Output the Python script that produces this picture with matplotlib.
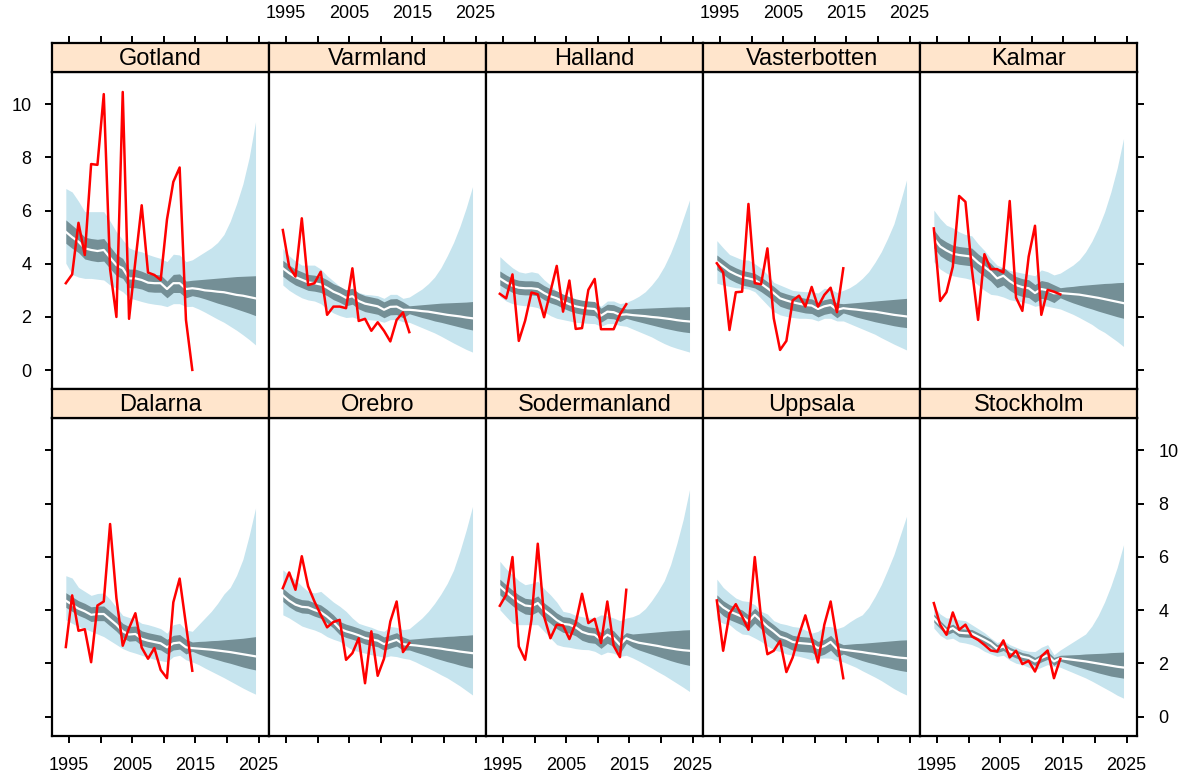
import numpy as np
import matplotlib.pyplot as plt

plt.rcParams['font.family'] = ['Liberation Sans', 'DejaVu Sans']

years = np.arange(1994, 2025)
n_obs = 21
tick_years = [1995, 2000, 2005, 2010, 2015, 2020, 2025]
tick_labels = ['1995', '', '2005', '', '2015', '', '2025']
y_ticks = [0, 2, 4, 6, 8, 10]

counties_top = ['Gotland', 'Varmland', 'Halland', 'Vasterbotten', 'Kalmar']
counties_bottom = ['Dalarna', 'Orebro', 'Sodermanland', 'Uppsala', 'Stockholm']

# ---- Gotland
obs_gotland = [3.27, 3.6, 5.54, 4.33, 7.75, 7.72, 10.38, 3.8, 2.0, 10.46, 1.93,
               4.1, 6.2, 3.67, 3.58, 3.39, 5.67, 7.08, 7.62, 1.89, 0.01]
med_gotland = [5.2, 5.0, 4.83, 4.58, 4.52, 4.48, 4.52, 4.23, 3.95, 3.83, 3.45, 3.45, 3.39, 3.29, 3.27, 3.27,
               3.05, 3.27, 3.27, 3.05, 3.08, 3.05, 3.0, 2.98, 2.95, 2.93, 2.88, 2.83, 2.8, 2.75, 2.7]
in_hi_gotland = [5.65, 5.45, 5.25, 5.0, 4.95, 4.92, 4.95, 4.65, 4.35, 4.2, 3.8, 3.8, 3.72, 3.62, 3.6, 3.58,
                 3.35, 3.6, 3.62, 3.35, 3.38, 3.4, 3.42, 3.44, 3.46, 3.48, 3.5, 3.52, 3.53, 3.54, 3.55]
in_lo_gotland = [4.77, 4.58, 4.42, 4.18, 4.12, 4.08, 4.1, 3.82, 3.55, 3.45, 3.1, 3.1, 3.05, 2.95, 2.93, 2.93,
                 2.72, 2.92, 2.92, 2.72, 2.8, 2.75, 2.68, 2.6, 2.52, 2.45, 2.38, 2.3, 2.22, 2.14, 2.05]
out_hi_gotland = [6.83, 6.7, 6.35, 5.96, 5.96, 5.96, 5.96, 5.6, 5.2, 4.9, 4.6, 4.5, 4.45, 4.35, 4.27, 4.2,
                  4.08, 4.36, 4.33, 4.08, 4.15, 4.3, 4.45, 4.6, 4.8, 5.1, 5.6, 6.25, 7.0, 8.0, 9.34]
out_lo_gotland = [4.02, 3.6, 3.5, 3.45, 3.45, 3.42, 3.39, 3.2, 3.08, 2.95, 2.72, 2.65, 2.58, 2.52, 2.48, 2.45,
                  2.39, 2.5, 2.5, 2.39, 2.4, 2.3, 2.18, 2.05, 1.92, 1.8, 1.65, 1.5, 1.33, 1.15, 0.95]

# ---- Varmland
obs_varmland = [5.27, 3.89, 3.52, 5.71, 3.2, 3.27, 3.7, 2.08, 2.39, 2.39, 2.33,
                3.83, 1.85, 1.93, 1.48, 1.8, 1.48, 1.08, 1.89, 2.17, 1.43]
med_varmland = [3.83, 3.65, 3.5, 3.4, 3.3, 3.27, 3.22, 3.1, 2.95, 2.85, 2.72, 2.78, 2.6, 2.5, 2.45, 2.4,
                2.27, 2.38, 2.39, 2.27, 2.27, 2.25, 2.22, 2.2, 2.16, 2.12, 2.08, 2.05, 2.02, 1.98, 1.95]
in_hi_varmland = [4.13, 3.95, 3.8, 3.7, 3.6, 3.57, 3.52, 3.4, 3.25, 3.15, 3.02, 3.08, 2.9, 2.8, 2.75, 2.7,
                  2.57, 2.68, 2.69, 2.57, 2.42, 2.44, 2.46, 2.48, 2.5, 2.52, 2.53, 2.54, 2.55, 2.56, 2.58]
in_lo_varmland = [3.53, 3.35, 3.2, 3.1, 3.0, 2.97, 2.92, 2.8, 2.65, 2.55, 2.42, 2.48, 2.3, 2.2, 2.15, 2.1,
                  1.97, 2.08, 2.09, 1.97, 2.12, 2.05, 1.98, 1.92, 1.85, 1.8, 1.74, 1.68, 1.62, 1.56, 1.51]
out_hi_varmland = [4.58, 4.3, 4.1, 3.95, 3.95, 3.95, 3.8, 3.55, 3.35, 3.15, 3.02, 3.05, 2.92, 2.85, 2.83, 2.8,
                   2.7, 2.85, 2.85, 2.7, 2.75, 2.9, 3.05, 3.25, 3.5, 3.85, 4.3, 4.8, 5.4, 6.1, 6.9]
out_lo_varmland = [3.2, 3.0, 2.85, 2.72, 2.64, 2.6, 2.5, 2.3, 2.15, 2.05, 1.98, 2.0, 1.92, 1.9, 1.89, 1.87,
                   1.8, 1.9, 1.9, 1.82, 1.8, 1.7, 1.6, 1.5, 1.4, 1.28, 1.15, 1.02, 0.9, 0.78, 0.68]

# ---- Halland
obs_halland = [2.87, 2.7, 3.6, 1.1, 1.86, 2.92, 2.85, 1.99, 2.95, 3.92, 2.2,
               3.37, 1.55, 1.58, 3.02, 3.43, 1.54, 1.54, 1.54, 2.1, 2.48]
med_halland = [3.45, 3.3, 3.17, 3.1, 3.08, 3.08, 3.05, 2.9, 2.78, 2.7, 2.58, 2.48, 2.4, 2.35, 2.32, 2.3,
               2.05, 2.2, 2.18, 2.08, 2.1, 2.07, 2.05, 2.03, 2.0, 1.98, 1.95, 1.92, 1.88, 1.85, 1.83]
in_hi_halland = [3.73, 3.58, 3.45, 3.38, 3.36, 3.36, 3.33, 3.18, 3.06, 2.98, 2.86, 2.76, 2.68, 2.63, 2.6, 2.58,
                 2.33, 2.48, 2.46, 2.36, 2.3, 2.31, 2.32, 2.33, 2.34, 2.35, 2.36, 2.37, 2.38, 2.38, 2.39]
in_lo_halland = [3.2, 3.05, 2.92, 2.85, 2.83, 2.83, 2.8, 2.65, 2.53, 2.45, 2.33, 2.23, 2.15, 2.1, 2.07, 2.05,
                 1.8, 1.95, 1.93, 1.83, 1.95, 1.88, 1.82, 1.76, 1.7, 1.64, 1.58, 1.53, 1.48, 1.44, 1.41]
out_hi_halland = [4.27, 4.05, 3.85, 3.7, 3.65, 3.7, 3.65, 3.4, 3.2, 2.95, 2.83, 2.75, 2.65, 2.6, 2.58, 2.55,
                  2.4, 2.6, 2.6, 2.5, 2.55, 2.65, 2.78, 2.95, 3.2, 3.5, 3.9, 4.4, 5.0, 5.7, 6.4]
out_lo_halland = [2.77, 2.6, 2.5, 2.45, 2.42, 2.4, 2.35, 2.2, 2.05, 1.95, 1.9, 1.85, 1.8, 1.78, 1.76, 1.75,
                  1.65, 1.75, 1.75, 1.68, 1.65, 1.55, 1.45, 1.35, 1.25, 1.12, 1.0, 0.9, 0.82, 0.75, 0.68]

# ---- Vasterbotten
obs_vasterbotten = [4.02, 3.68, 1.51, 2.93, 2.95, 6.25, 3.27, 3.23, 4.58, 1.95, 0.76,
                    1.1, 2.62, 2.8, 2.39, 3.13, 2.39, 2.83, 3.1, 2.18, 3.83]
med_vasterbotten = [4.08, 3.9, 3.72, 3.6, 3.5, 3.45, 3.39, 3.25, 3.08, 2.9, 2.7, 2.62, 2.55, 2.5, 2.45, 2.43,
                    2.3, 2.4, 2.45, 2.27, 2.33, 2.3, 2.28, 2.25, 2.22, 2.2, 2.16, 2.12, 2.08, 2.05, 2.02]
in_hi_vasterbotten = [4.33, 4.15, 3.97, 3.85, 3.75, 3.7, 3.64, 3.5, 3.33, 3.15, 2.95, 2.87, 2.8, 2.75, 2.7, 2.68,
                      2.55, 2.65, 2.7, 2.52, 2.5, 2.52, 2.54, 2.56, 2.58, 2.6, 2.62, 2.64, 2.66, 2.68, 2.7]
in_lo_vasterbotten = [3.78, 3.6, 3.42, 3.3, 3.2, 3.15, 3.09, 2.95, 2.78, 2.6, 2.4, 2.32, 2.25, 2.2, 2.15, 2.13,
                      2.0, 2.1, 2.15, 1.97, 2.15, 2.08, 2.0, 1.94, 1.88, 1.82, 1.77, 1.72, 1.67, 1.63, 1.6]
out_hi_vasterbotten = [4.87, 4.6, 4.35, 4.25, 4.15, 4.14, 4.0, 3.83, 3.6, 3.3, 3.2, 3.1, 3.0, 2.97, 2.95, 2.95,
                       2.9, 3.08, 3.05, 2.92, 3.0, 3.1, 3.25, 3.45, 3.7, 4.05, 4.45, 4.95, 5.5, 6.3, 7.15]
out_lo_vasterbotten = [3.27, 3.2, 3.15, 3.1, 3.08, 3.05, 2.95, 2.7, 2.45, 2.2, 2.08, 2.02, 1.98, 1.95, 1.95, 1.93,
                       1.85, 1.95, 1.95, 1.85, 1.85, 1.75, 1.65, 1.55, 1.45, 1.35, 1.22, 1.1, 0.98, 0.87, 0.76]

# ---- Kalmar
obs_kalmar = [5.33, 2.6, 2.93, 3.89, 6.55, 6.33, 3.83, 1.89, 4.36, 3.8, 3.8,
              3.67, 6.36, 2.73, 2.23, 4.27, 5.43, 2.08, 3.02, 2.95, 2.85]
med_kalmar = [4.96, 4.65, 4.5, 4.38, 4.33, 4.3, 4.27, 4.05, 3.88, 3.7, 3.45, 3.55, 3.35, 3.2, 3.12, 3.08,
              2.9, 3.05, 3.0, 2.89, 2.9, 2.88, 2.86, 2.84, 2.8, 2.76, 2.72, 2.67, 2.62, 2.57, 2.52]
in_hi_kalmar = [5.28, 4.97, 4.82, 4.7, 4.65, 4.62, 4.59, 4.37, 4.2, 4.02, 3.77, 3.87, 3.67, 3.52, 3.44, 3.4,
                3.22, 3.37, 3.32, 3.21, 3.1, 3.13, 3.15, 3.18, 3.2, 3.22, 3.24, 3.26, 3.27, 3.29, 3.3]
in_lo_kalmar = [4.6, 4.3, 4.15, 4.03, 3.98, 3.95, 3.92, 3.7, 3.53, 3.35, 3.1, 3.2, 3.0, 2.85, 2.77, 2.73,
                2.55, 2.7, 2.65, 2.54, 2.72, 2.62, 2.53, 2.45, 2.37, 2.3, 2.22, 2.15, 2.08, 2.01, 1.95]
out_hi_kalmar = [6.02, 5.7, 5.45, 5.35, 5.2, 5.1, 5.05, 4.75, 4.5, 4.2, 3.95, 3.85, 3.75, 3.7, 3.65, 3.6,
                 3.55, 3.77, 3.7, 3.58, 3.65, 3.8, 3.95, 4.15, 4.45, 4.85, 5.35, 5.95, 6.7, 7.6, 8.71]
out_lo_kalmar = [4.08, 3.8, 3.65, 3.55, 3.5, 3.46, 3.4, 3.2, 3.0, 2.85, 2.82, 2.75, 2.65, 2.6, 2.56, 2.5,
                 2.4, 2.45, 2.4, 2.35, 2.3, 2.2, 2.1, 1.98, 1.85, 1.72, 1.55, 1.42, 1.25, 1.08, 0.89]

# ---- Dalarna
obs_dalarna = [2.61, 4.55, 3.22, 3.28, 2.04, 4.17, 4.32, 7.23, 4.45, 2.66, 3.32,
               3.88, 2.59, 2.17, 2.57, 1.75, 1.44, 4.29, 5.18, 3.45, 1.72]
med_dalarna = [4.35, 4.2, 4.05, 3.95, 3.82, 3.85, 3.85, 3.65, 3.45, 3.2, 3.08, 3.1, 2.92, 2.85, 2.8, 2.75,
               2.6, 2.75, 2.78, 2.6, 2.57, 2.55, 2.53, 2.51, 2.48, 2.45, 2.42, 2.38, 2.34, 2.3, 2.26]
in_hi_dalarna = [4.65, 4.5, 4.35, 4.25, 4.12, 4.15, 4.15, 3.95, 3.75, 3.5, 3.38, 3.4, 3.22, 3.15, 3.1, 3.05,
                 2.9, 3.05, 3.08, 2.9, 2.8, 2.82, 2.83, 2.85, 2.86, 2.88, 2.9, 2.92, 2.94, 2.97, 3.0]
in_lo_dalarna = [4.1, 3.95, 3.8, 3.7, 3.57, 3.6, 3.6, 3.4, 3.2, 2.95, 2.83, 2.85, 2.67, 2.6, 2.55, 2.5,
                 2.35, 2.5, 2.53, 2.35, 2.45, 2.35, 2.27, 2.2, 2.13, 2.06, 2.0, 1.93, 1.86, 1.8, 1.75]
out_hi_dalarna = [5.29, 5.2, 4.85, 4.7, 4.55, 4.62, 4.64, 4.4, 4.1, 3.8, 3.72, 3.65, 3.5, 3.45, 3.38, 3.3,
                  3.13, 3.45, 3.5, 3.25, 3.2, 3.45, 3.7, 3.95, 4.25, 4.6, 4.85, 5.3, 5.9, 6.8, 7.83]
out_lo_dalarna = [3.63, 3.5, 3.38, 3.3, 3.2, 3.1, 3.0, 2.85, 2.7, 2.55, 2.45, 2.38, 2.3, 2.22, 2.15, 2.1,
                  2.05, 2.25, 2.3, 2.13, 2.05, 1.95, 1.82, 1.7, 1.58, 1.46, 1.33, 1.2, 1.07, 0.95, 0.84]

# ---- Orebro
obs_orebro = [4.82, 5.41, 4.76, 6.02, 4.89, 4.32, 3.82, 3.35, 3.55, 3.63, 2.13,
              2.38, 2.94, 1.25, 3.2, 1.53, 2.17, 3.57, 4.32, 2.42, 2.76]
med_orebro = [4.55, 4.35, 4.2, 4.12, 4.1, 4.0, 3.92, 3.75, 3.55, 3.3, 3.2, 3.13, 3.05, 2.95, 2.9, 2.85,
              2.72, 2.8, 2.88, 2.72, 2.69, 2.67, 2.64, 2.61, 2.58, 2.55, 2.51, 2.48, 2.44, 2.41, 2.38]
in_hi_orebro = [4.82, 4.62, 4.47, 4.39, 4.37, 4.27, 4.19, 4.02, 3.82, 3.57, 3.47, 3.4, 3.32, 3.22, 3.17, 3.12,
                2.99, 3.07, 3.15, 2.99, 2.9, 2.92, 2.94, 2.96, 2.98, 2.99, 3.01, 3.02, 3.04, 3.05, 3.07]
in_lo_orebro = [4.32, 4.12, 3.97, 3.89, 3.87, 3.77, 3.69, 3.52, 3.32, 3.07, 2.97, 2.9, 2.82, 2.72, 2.67, 2.62,
                2.49, 2.57, 2.65, 2.49, 2.5, 2.42, 2.35, 2.28, 2.2, 2.13, 2.06, 2.0, 1.93, 1.87, 1.82]
out_hi_orebro = [5.51, 5.3, 5.14, 4.9, 4.7, 4.64, 4.7, 4.5, 4.3, 4.14, 3.95, 3.7, 3.5, 3.42, 3.35, 3.25,
                 3.2, 3.38, 3.35, 3.26, 3.3, 3.5, 3.7, 3.95, 4.25, 4.6, 5.0, 5.5, 6.2, 7.0, 7.89]
out_lo_orebro = [3.82, 3.7, 3.55, 3.4, 3.32, 3.25, 3.15, 3.0, 2.9, 2.82, 2.65, 2.5, 2.44, 2.38, 2.32, 2.28,
                 2.22, 2.28, 2.25, 2.19, 2.15, 2.05, 1.93, 1.82, 1.7, 1.57, 1.45, 1.3, 1.15, 0.98, 0.81]

# ---- Sodermanland
obs_sodermanland = [4.16, 4.57, 5.99, 2.63, 2.13, 3.63, 6.49, 3.76, 2.94, 3.45, 3.42,
                    2.91, 3.51, 4.61, 3.51, 3.67, 2.76, 4.32, 2.66, 2.23, 4.76]
med_sodermanland = [4.89, 4.68, 4.48, 4.3, 4.17, 4.14, 4.26, 4.0, 3.82, 3.62, 3.48, 3.45, 3.35, 3.18, 3.1, 3.07,
                    2.88, 3.07, 2.95, 2.69, 2.94, 2.84, 2.77, 2.73, 2.69, 2.65, 2.6, 2.56, 2.52, 2.49, 2.47]
in_hi_sodermanland = [5.16, 4.95, 4.75, 4.57, 4.44, 4.41, 4.53, 4.27, 4.09, 3.89, 3.75, 3.72, 3.62, 3.45, 3.37, 3.34,
                      3.15, 3.34, 3.22, 2.96, 3.15, 3.1, 3.12, 3.14, 3.16, 3.18, 3.2, 3.22, 3.23, 3.25, 3.26]
in_lo_sodermanland = [4.57, 4.36, 4.16, 3.98, 3.85, 3.82, 3.94, 3.68, 3.5, 3.3, 3.16, 3.13, 3.03, 2.86, 2.78, 2.75,
                      2.56, 2.75, 2.63, 2.37, 2.75, 2.6, 2.5, 2.42, 2.34, 2.26, 2.18, 2.1, 2.03, 1.97, 1.92]
out_hi_sodermanland = [5.83, 5.55, 5.33, 5.1, 4.95, 5.0, 5.08, 4.8, 4.57, 4.3, 3.95, 3.9, 3.8, 3.75, 3.7, 3.7,
                       3.82, 3.78, 3.7, 3.6, 3.7, 3.75, 3.85, 4.05, 4.35, 4.7, 5.1, 5.7, 6.5, 7.4, 8.52]
out_lo_sodermanland = [4.01, 3.75, 3.5, 3.45, 3.45, 3.45, 3.45, 3.2, 2.95, 2.7, 2.63, 2.6, 2.55, 2.52, 2.51, 2.45,
                       2.32, 2.42, 2.38, 2.26, 2.3, 2.2, 2.08, 1.95, 1.82, 1.68, 1.55, 1.4, 1.25, 1.1, 0.94]

# ---- Uppsala
obs_uppsala = [4.36, 2.47, 3.86, 4.22, 3.76, 3.26, 5.99, 3.7, 2.34, 2.47, 2.84,
               1.67, 2.22, 3.07, 3.8, 2.94, 2.03, 3.45, 4.32, 2.88, 1.44]
med_uppsala = [4.32, 4.1, 3.95, 3.85, 3.75, 3.57, 3.82, 3.6, 3.38, 3.2, 3.0, 2.92, 2.8, 2.76, 2.74, 2.72,
               2.57, 2.65, 2.8, 2.55, 2.51, 2.48, 2.45, 2.42, 2.38, 2.35, 2.31, 2.28, 2.24, 2.21, 2.19]
in_hi_uppsala = [4.57, 4.35, 4.2, 4.1, 4.0, 3.82, 4.07, 3.85, 3.63, 3.45, 3.25, 3.17, 3.05, 3.01, 2.99, 2.97,
                 2.82, 2.9, 3.05, 2.8, 2.7, 2.72, 2.74, 2.75, 2.77, 2.79, 2.81, 2.83, 2.85, 2.87, 2.88]
in_lo_uppsala = [4.01, 3.79, 3.64, 3.54, 3.44, 3.26, 3.51, 3.29, 3.07, 2.89, 2.69, 2.61, 2.49, 2.45, 2.43, 2.41,
                 2.26, 2.34, 2.49, 2.24, 2.35, 2.26, 2.18, 2.1, 2.03, 1.97, 1.9, 1.84, 1.78, 1.73, 1.69]
out_hi_uppsala = [5.16, 4.85, 4.64, 4.45, 4.35, 4.32, 4.2, 3.95, 3.85, 3.6, 3.5, 3.45, 3.38, 3.35, 3.25, 3.13,
                  3.2, 3.38, 3.38, 3.3, 3.38, 3.55, 3.7, 3.82, 4.1, 4.5, 4.95, 5.5, 6.08, 6.8, 7.52]
out_lo_uppsala = [3.63, 3.5, 3.45, 3.25, 3.1, 3.07, 2.95, 2.82, 2.65, 2.5, 2.44, 2.35, 2.3, 2.26, 2.2, 2.13,
                  2.18, 2.2, 2.19, 2.1, 2.05, 1.95, 1.85, 1.72, 1.6, 1.48, 1.35, 1.2, 1.05, 0.92, 0.81]

# ---- Stockholm
obs_stockholm = [4.26, 3.45, 3.07, 3.91, 3.26, 3.45, 3.01, 2.88, 2.69, 2.48, 2.44,
                 2.86, 2.22, 2.47, 1.97, 2.09, 1.69, 2.26, 2.48, 1.44, 2.17]
med_stockholm = [3.7, 3.45, 3.22, 3.32, 3.15, 3.13, 3.12, 3.0, 2.88, 2.75, 2.55, 2.63, 2.45, 2.35, 2.25, 2.2,
                 2.07, 2.2, 2.3, 2.07, 2.19, 2.16, 2.13, 2.1, 2.07, 2.03, 1.99, 1.95, 1.91, 1.87, 1.84]
in_hi_stockholm = [3.85, 3.6, 3.37, 3.47, 3.3, 3.28, 3.27, 3.15, 3.03, 2.9, 2.7, 2.78, 2.6, 2.5, 2.4, 2.35,
                   2.22, 2.35, 2.45, 2.22, 2.3, 2.31, 2.32, 2.33, 2.35, 2.36, 2.37, 2.38, 2.4, 2.41, 2.42]
in_lo_stockholm = [3.55, 3.3, 3.07, 3.17, 3.0, 2.98, 2.97, 2.85, 2.73, 2.6, 2.4, 2.48, 2.3, 2.2, 2.1, 2.05,
                   1.92, 2.05, 2.15, 1.92, 2.08, 2.0, 1.92, 1.85, 1.78, 1.71, 1.64, 1.58, 1.52, 1.48, 1.44]
out_hi_stockholm = [4.14, 3.85, 3.7, 3.7, 3.63, 3.6, 3.45, 3.3, 3.15, 2.95, 2.78, 2.85, 2.7, 2.6, 2.5, 2.45,
                    2.44, 2.6, 2.7, 2.32, 2.5, 2.65, 2.8, 2.95, 3.1, 3.4, 3.8, 4.3, 4.9, 5.6, 6.45]
out_lo_stockholm = [3.32, 3.05, 2.9, 2.94, 2.8, 2.76, 2.7, 2.6, 2.45, 2.35, 2.26, 2.3, 2.12, 2.0, 1.95, 1.85,
                    1.75, 1.85, 1.95, 1.88, 1.85, 1.75, 1.65, 1.55, 1.45, 1.33, 1.2, 1.07, 0.94, 0.8, 0.69]


data = {
    'Gotland': (obs_gotland, med_gotland, in_lo_gotland, in_hi_gotland, out_lo_gotland, out_hi_gotland),
    'Varmland': (obs_varmland, med_varmland, in_lo_varmland, in_hi_varmland, out_lo_varmland, out_hi_varmland),
    'Halland': (obs_halland, med_halland, in_lo_halland, in_hi_halland, out_lo_halland, out_hi_halland),
    'Vasterbotten': (obs_vasterbotten, med_vasterbotten, in_lo_vasterbotten, in_hi_vasterbotten,
                     out_lo_vasterbotten, out_hi_vasterbotten),
    'Kalmar': (obs_kalmar, med_kalmar, in_lo_kalmar, in_hi_kalmar, out_lo_kalmar, out_hi_kalmar),
    'Dalarna': (obs_dalarna, med_dalarna, in_lo_dalarna, in_hi_dalarna, out_lo_dalarna, out_hi_dalarna),
    'Orebro': (obs_orebro, med_orebro, in_lo_orebro, in_hi_orebro, out_lo_orebro, out_hi_orebro),
    'Sodermanland': (obs_sodermanland, med_sodermanland, in_lo_sodermanland, in_hi_sodermanland,
                     out_lo_sodermanland, out_hi_sodermanland),
    'Uppsala': (obs_uppsala, med_uppsala, in_lo_uppsala, in_hi_uppsala, out_lo_uppsala, out_hi_uppsala),
    'Stockholm': (obs_stockholm, med_stockholm, in_lo_stockholm, in_hi_stockholm,
                  out_lo_stockholm, out_hi_stockholm),
}

light_blue = '#c6e4ee'
dark_grey = '#748f96'
strip_col = '#ffe5cc'

W, H = 1185, 775
col_left = 52.3
col_w = 217.0
rows = [(43.3, 72.3, 389.3), (389.3, 418.3, 735.7)]   # strip top, panel top, panel bottom
xlim = (1992.36, 2026.68)
ylim = (-0.72, 11.2)
spine_w = 1.6


def box(left, top, bottom):
    return [left / W, 1 - bottom / H, col_w / W, (bottom - top) / H]


def style_spines(ax):
    for s in ax.spines.values():
        s.set_linewidth(spine_w)
        s.set_color('black')


def draw_panel(ax, name):
    obs, med, in_lo, in_hi, out_lo, out_hi = data[name]
    x = years + 0.5
    ax.fill_between(x, out_lo, out_hi, color=light_blue, lw=0)
    ax.fill_between(x, in_lo, in_hi, color=dark_grey, lw=0)
    ax.plot(x, med, color='white', lw=1.6)
    ax.plot(x[:n_obs], obs, color='red', lw=1.8)
    ax.set_xlim(*xlim)
    ax.set_ylim(*ylim)
    style_spines(ax)


fig = plt.figure(figsize=(W / 100, H / 100), dpi=100)

tick_kw = dict(direction='out', length=5, width=1.4, labelsize=13, pad=10, color='black')

for r, names in enumerate([counties_top, counties_bottom]):
    strip_top, panel_top, panel_bottom = rows[r]
    for c, name in enumerate(names):
        left = col_left + c * col_w
        ax = fig.add_axes(box(left, panel_top, panel_bottom))
        draw_panel(ax, name)

        ax.set_xticks(tick_years)
        ax.set_xticklabels(tick_labels)
        ax.set_yticks(y_ticks)
        ax.tick_params(**tick_kw)
        ax.tick_params(top=False, labeltop=False, right=False, left=False,
                       labelleft=False, labelright=False)

        # y axis on the outer columns only
        if c == 0:
            ax.tick_params(left=True, labelleft=(r == 0))
        if c == 4:
            ax.tick_params(right=True, labelright=(r == 1))

        if r == 0:
            ax.tick_params(bottom=False, labelbottom=False)
        else:
            ax.tick_params(bottom=True, labelbottom=(c % 2 == 0))

        # strip with the county name
        sax = fig.add_axes(box(left, strip_top, panel_top))
        sax.set_facecolor(strip_col)
        sax.set_xlim(*xlim)
        sax.set_yticks([])
        style_spines(sax)
        sax.text(0.5, 0.45, name, transform=sax.transAxes, ha='center', va='center',
                 fontsize=17)
        if r == 0:
            sax.set_xticks(tick_years)
            sax.set_xticklabels(tick_labels)
            sax.tick_params(**tick_kw)
            sax.tick_params(top=True, bottom=False, labelbottom=False, labeltop=(c % 2 == 1))
        else:
            sax.set_xticks([])

fig.savefig('out.png', dpi=100)
